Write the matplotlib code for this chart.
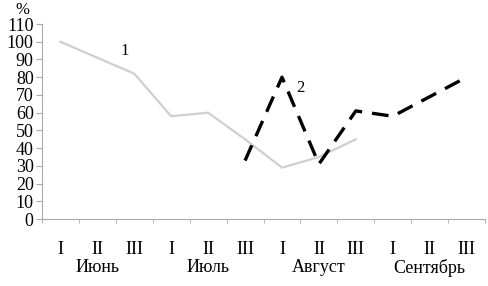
import numpy as np
import matplotlib.pyplot as plt
from matplotlib.transforms import blended_transform_factory

# ===================== DATA ================================================ #

decades = ['I', 'II', 'III'] * 4
months = ['Июнь', 'Июль', 'Август', 'Сентябрь']

# series 1: Jun I .. Aug III
s1_x = np.arange(0, 9)
s1_y = [100, 91, 82, 58, 60, 45, 29, 35, 45]

# series 2: Jul III .. Sep III
s2_x = np.arange(5, 12)
s2_y = [33, 80, 31, 61, 58, 69, 80]

# ===================== PLOT ================================================ #

plt.rcParams['font.family'] = ['Liberation Serif', 'DejaVu Serif']

fig = plt.figure(figsize=(4.88, 2.86), dpi=100)
ax = fig.add_axes([0.086, 0.234, 0.908, 0.682])

ax.plot(s1_x, s1_y, color='#cfcfcf', lw=1.6, solid_joinstyle='miter')
ax.plot(s2_x, s2_y, color='black', lw=2.4, dashes=(5, 3), dash_capstyle='butt')

ax.set_xlim(-0.5, 11.5)
ax.set_ylim(0, 110)
ax.set_yticks(np.arange(0, 111, 10))
ax.tick_params(axis='y', labelsize=13, length=4, color='#aaaaaa', pad=2)

ax.set_xticks(np.arange(12))
ax.set_xticklabels(decades, fontsize=13)
ax.tick_params(axis='x', length=0, pad=16)
ax.set_xticks(np.arange(-0.5, 12, 1), minor=True)
ax.tick_params(axis='x', which='minor', length=3, color='#aaaaaa')

for sp in ['top', 'right']:
    ax.spines[sp].set_visible(False)
for sp in ['left', 'bottom']:
    ax.spines[sp].set_color('#aaaaaa')

trans = blended_transform_factory(ax.transData, ax.transAxes)
for i, m in enumerate(months):
    ax.text(3 * i + 1, -0.25, m, transform=trans, ha='center', va='center', fontsize=13)

ax.text(-1.02, 1.07, '%', transform=trans, ha='center', va='center', fontsize=12)
ax.text(1.75, 95, '1', fontsize=12, ha='center', va='center')
ax.text(6.5, 74, '2', fontsize=12, ha='center', va='center')

fig.savefig('out.png', dpi=100)
